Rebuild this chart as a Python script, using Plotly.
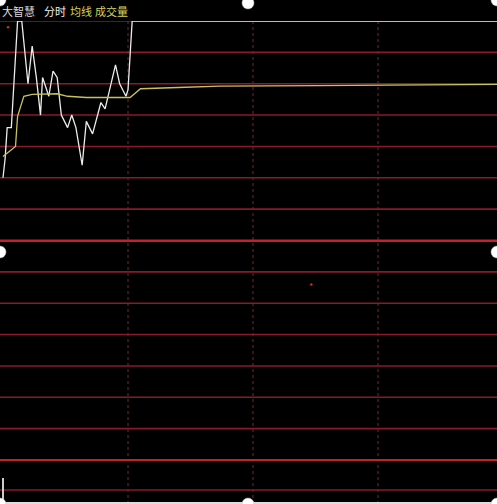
import plotly.graph_objects as go

# 分时价格 (白线)
price_min = [0, 1, 2, 4, 7, 9, 12, 14, 16, 18, 19, 21, 22, 24, 26, 28, 31, 33, 35,
             38, 40, 43, 47, 49, 54, 56, 59, 60, 62, 240]
price = [10.10, 10.13, 10.18, 10.18, 10.35, 10.35, 10.25, 10.31, 10.26, 10.20,
         10.26, 10.24, 10.23, 10.27, 10.26, 10.20, 10.18, 10.20, 10.18,
         10.12, 10.19, 10.17, 10.22, 10.21, 10.28, 10.25, 10.23, 10.24, 10.35, 10.35]

# 均价 (黄线)
avg_min = [0, 6, 7, 10, 14, 26, 31, 40, 61, 66, 84, 104, 151, 240]
avg_price = [10.134, 10.150, 10.198, 10.230, 10.233, 10.234, 10.230, 10.228,
             10.228, 10.242, 10.244, 10.246, 10.247, 10.249]

# 成交量
vol_min = [0]
vol = [2600]

# 红点
dot_min = [2.4, 148]
dot_price = [10.34, 9.93]

price_levels = [10.35, 10.30, 10.25, 10.20, 10.15, 10.10, 10.05,
                9.95, 9.90, 9.85, 9.80, 9.75, 9.70]
bright_levels = [10.00, 9.65]
vol_levels = [1400]
time_lines = [60, 120, 180]

W, H = 497, 504


def py(px):
    return 1 - px / H


fig = go.Figure()
fig.add_trace(go.Bar(x=vol_min, y=vol, width=0.5, marker=dict(color="#cccccc", line_width=0),
                     yaxis="y2"))
fig.add_trace(go.Scatter(x=price_min, y=price, mode="lines",
                         line=dict(color="#ececec", width=1.3), yaxis="y"))
fig.add_trace(go.Scatter(x=avg_min, y=avg_price, mode="lines",
                         line=dict(color="#c9c25c", width=1.3), yaxis="y"))
fig.add_trace(go.Scatter(x=dot_min, y=dot_price, mode="markers",
                         marker=dict(color="#c0303a", size=2.5), yaxis="y"))

shapes = []
for lv in price_levels:
    shapes.append(dict(type="line", xref="paper", x0=0, x1=1, yref="y", y0=lv, y1=lv,
                       line=dict(color="#8a1a2a", width=1.6), layer="below"))
for lv in vol_levels:
    shapes.append(dict(type="line", xref="paper", x0=0, x1=1, yref="y2", y0=lv, y1=lv,
                       line=dict(color="#8a1a2a", width=1.6), layer="below"))
for lv in bright_levels:
    shapes.append(dict(type="line", xref="paper", x0=0, x1=1, yref="y", y0=lv, y1=lv,
                       line=dict(color="#c4202e", width=2), layer="above"))
for t in time_lines:
    shapes.append(dict(type="line", xref="x", x0=t, x1=t, yref="paper", y0=0, y1=py(21),
                       line=dict(color="#8a1a2a", width=1, dash="dot"), layer="below"))

# 边框与控制点
shapes.append(dict(type="rect", xref="paper", yref="paper", x0=0, x1=1, y0=0, y1=py(502),
                   fillcolor="#dddddd", line_width=0))
for cx, cy in [(0, 0), (248, 3), (497, 0), (0, 252), (497, 252), (0, 504), (248, 504), (497, 504)]:
    shapes.append(dict(type="circle", xref="paper", yref="paper",
                       x0=(cx - 6) / W, x1=(cx + 6) / W, y0=py(cy + 6), y1=py(cy - 6),
                       fillcolor="#ffffff", line=dict(color="#bbbbbb", width=0.5)))

annots = []
for txt, x0, col in [("大智慧", 0, "#dcdcdc"), ("分时", 42, "#f0f0f0"),
                     ("均线", 68, "#d8d25a"), ("成交量", 93, "#d8d25a")]:
    annots.append(dict(text=txt, x=x0 / W, y=py(11), xref="paper", yref="paper",
                       xanchor="left", yanchor="middle", showarrow=False,
                       font=dict(family="Noto Sans CJK SC", size=11, color=col)))

# 价格区 21-460px 共14格, 量区 460-504px
step_px = (460 - 21) / 14
price_bottom = 9.65 - 0.05 * (504 - 460) / step_px
vol_top = 2600 * (504 - 21) / (504 - 478)

x_range = [-3 / (125 / 60), (W - 3) / (125 / 60)]
fig.update_layout(
    width=W, height=H,
    margin=dict(l=0, r=0, t=0, b=0),
    paper_bgcolor="#000000", plot_bgcolor="#000000",
    showlegend=False,
    xaxis=dict(range=x_range, visible=False, domain=[0, 1]),
    yaxis=dict(range=[price_bottom, 10.35], domain=[0, py(21)],
               showticklabels=False, ticks="", showline=False, zeroline=False,
               showgrid=True, tickvals=bright_levels, gridcolor="#c4202e", gridwidth=2),
    yaxis2=dict(range=[0, vol_top], visible=False, overlaying="y"),
    shapes=shapes,
    annotations=annots,
)

fig.write_html("out.html", config={"displayModeBar": False},
               post_script="document.body.style.margin='0';")
